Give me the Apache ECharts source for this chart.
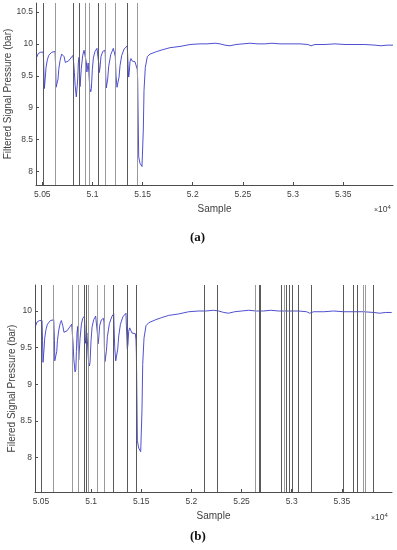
<!DOCTYPE html>
<html><head><meta charset="utf-8">
<script src="https://cdn.jsdelivr.net/npm/echarts@6/dist/echarts.min.js"></script>
<style>html,body{margin:0;padding:0;background:#fff}#c{width:397px;height:550px}</style>
</head><body><div id="c"></div>
<script>
// Sample index (x) and filtered signal pressure in bar (y)
const sampleX = [50444,50460,50484,50510,50515,50520,50525,50530,50537,50550,50564,50594,50627,50634,50637,50650,50657,50664,50677,50693,50703,50717,50729,50743,50759,50786,50806,50813,50820,50827,50839,50847,50853,50859,50866,50873,50876,50883,50889,50903,50916,50933,50940,50944,50950,50957,50964,50974,50983,50989,50999,51009,51025,51045,51058,51062,51068,51075,51085,51102,51122,51128,51132,51138,51145,51152,51162,51182,51208,51225,51228,51235,51245,51255,51265,51275,51292,51316,51347,51351,51354,51361,51367,51374,51384,51397,51407,51424,51441,51447,51451,51461,51474,51494,51501,51507,51514,51527,51547,51574,51641,51703,51773,51873,51973,52072,52142,52222,52272,52322,52371,52431,52501,52571,52650,52720,52790,52870,52969,53069,53149,53179,53219,53319,53418,53518,53618,53717,53817,53877,53937,53997];
const pressure = [9.79,9.85,9.87,9.87,9.60,9.30,9.32,9.48,9.63,9.75,9.82,9.87,9.88,9.60,9.32,9.31,9.45,9.60,9.74,9.84,9.87,9.80,9.71,9.71,9.73,9.78,9.82,9.83,9.55,9.35,9.17,9.20,9.45,9.70,9.79,9.78,9.33,9.35,9.62,9.82,9.90,9.93,9.70,9.56,9.62,9.70,9.55,9.30,9.25,9.30,9.60,9.78,9.88,9.93,9.93,9.70,9.55,9.62,9.80,9.88,9.90,9.85,9.50,9.31,9.30,9.45,9.65,9.83,9.93,9.96,9.80,9.50,9.32,9.31,9.48,9.66,9.82,9.92,9.97,9.98,9.70,9.48,9.55,9.72,9.77,9.73,9.70,9.72,9.69,9.60,9.43,8.23,8.13,8.08,8.07,8.65,9.27,9.63,9.80,9.84,9.88,9.91,9.94,9.96,9.99,10.00,10.00,10.01,10.00,9.98,9.97,9.99,10.00,10.01,10.00,10.00,10.01,10.00,10.00,10.00,9.99,9.97,9.99,9.99,10.00,9.99,9.99,9.99,9.98,9.97,9.98,9.98];

// Event markers (sample index) with shade: 'd' dark, 'l' light
const eventsA = [50514,50627,50813,50869,50933,50969,51058,51128,51225,51351,51447];
const shadeA  = ['d','l','d','d','l','l','d','l','l','d','l'];
const eventsB = [50503,50623,50807,50867,50930,50947,50973,51057,51133,51223,51357,51450,52123,52257,52640,52673,52683,52897,52923,52947,52973,53007,53067,53190,53517,53613,53657,53717,53730,53813];
const shadeB  = ['d','l','l','l','d','d','l','l','l','d','d','d','d','d','l','d','d','d','l','d','d','d','d','d','d','d','d','l','l','d'];

const xTickValues = [50500,51000,51500,52000,52500,53000,53500];
const yTicksA = [8,8.5,9,9.5,10,10.5];
const yTicksB = [8,8.5,9,9.5,10];
const yNameA = 'Filtered Signal Pressure (bar)';
const yNameB = 'Filered Signal Pressure (bar)';
const xName = 'Sample';

const FONT = 'Liberation Sans, Arial, sans-serif';
const AX = '#4d4d4d';
const TXT = '#404040';
const shadeColor = {d:'#5a5a5a', l:'#9a9a9a'};

const signal = sampleX.map((s,i)=>[s, pressure[i]]);

function xAxis(gi, min, max){
  return {type:'value', gridIndex:gi, min:min, max:max,
    name:xName, nameLocation:'middle', nameGap:19, nameMoveOverlap:false,
    nameTextStyle:{fontFamily:FONT, fontSize:10, color:TXT},
    axisLine:{show:true, onZero:false, lineStyle:{color:AX, width:1}},
    axisTick:{show:true, inside:true, length:3, customValues:xTickValues, lineStyle:{color:AX}},
    axisLabel:{customValues:xTickValues, fontFamily:FONT, fontSize:8.5, color:TXT, margin:5,
      formatter:v=>String(+(v/10000).toFixed(2))},
    splitLine:{show:false}};
}
function yAxis(gi, min, max, ticks, name, gap){
  return {type:'value', gridIndex:gi, min:min, max:max,
    name:name, nameLocation:'middle', nameGap:gap, nameRotate:90, nameMoveOverlap:false,
    nameTextStyle:{fontFamily:FONT, fontSize:10, color:TXT},
    axisLine:{show:true, lineStyle:{color:AX, width:1}},
    axisTick:{show:true, inside:true, length:3, customValues:ticks, lineStyle:{color:AX}},
    axisLabel:{customValues:ticks, fontFamily:FONT, fontSize:8.5, color:TXT, margin:3,
      formatter:v=>String(v)},
    splitLine:{show:false}};
}
function markers(gi, ev, sh){
  return {type:'line', xAxisIndex:gi, yAxisIndex:gi, data:[], z:1, silent:true,
    markLine:{symbol:['none','none'], silent:true, animation:false, label:{show:false},
      data: ev.map((x,i)=>({xAxis:x, lineStyle:{color:shadeColor[sh[i]], width:1, type:'solid'}}))}};
}
function sig(gi){
  return {type:'line', xAxisIndex:gi, yAxisIndex:gi, data:signal, showSymbol:false, symbol:'none',
    z:3, silent:true, animation:false, lineStyle:{color:'#3c3ccc', width:0.9}};
}

const chart = echarts.init(document.getElementById('c'), null, {renderer:'canvas'});
chart.setOption({
  animation:false,
  backgroundColor:'#fff',
  grid:[
    {left:36, top:3, width:357, height:182, containLabel:false, outerBoundsMode:'none'},
    {left:35, top:285, width:357, height:207, containLabel:false, outerBoundsMode:'none'}
  ],
  xAxis:[xAxis(0, 50437, 53997), xAxis(1, 50440, 54000)],
  yAxis:[yAxis(0, 7.79, 10.64, yTicksA, yNameA, 23), yAxis(1, 7.53, 10.355, yTicksB, yNameB, 18)],
  series:[markers(0, eventsA, shadeA), sig(0), markers(1, eventsB, shadeB), sig(1)],
  graphic:[
    {type:'text', left:374, top:204, style:{text:'{a|×}{b|10}{c|4}', rich:{a:{fontSize:7,fontFamily:FONT,fill:TXT},b:{fontSize:8.5,fontFamily:FONT,fill:TXT},c:{fontSize:6,fontFamily:FONT,fill:TXT,padding:[0,0,6,0]}}}},
    {type:'text', left:371, top:512, style:{text:'{a|×}{b|10}{c|4}', rich:{a:{fontSize:7,fontFamily:FONT,fill:TXT},b:{fontSize:8.5,fontFamily:FONT,fill:TXT},c:{fontSize:6,fontFamily:FONT,fill:TXT,padding:[0,0,6,0]}}}},
    {type:'text', left:190, top:231, style:{text:'(a)', font:'bold 13px "Liberation Serif", "DejaVu Serif", serif', fill:'#111'}},
    {type:'text', left:190, top:530, style:{text:'(b)', font:'bold 13px "Liberation Serif", "DejaVu Serif", serif', fill:'#111'}}
  ]
});
</script>
</body></html>
